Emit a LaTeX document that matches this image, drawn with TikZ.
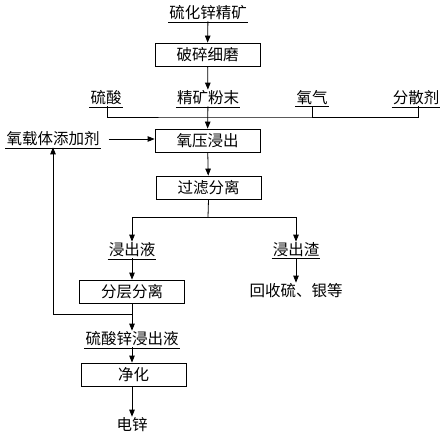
\documentclass[tikz,border=0pt]{standalone}
\usepackage{fontspec}
\setmainfont{Noto Sans CJK SC}
\usetikzlibrary{arrows.meta}
\begin{document}
\begin{tikzpicture}[x=1pt,y=-1pt,
  font=\fontsize{15.5pt}{17pt}\selectfont,
  proc/.style={draw,line width=0.8pt,minimum width=105pt,minimum height=23pt,inner sep=0pt},
  lbl/.style={inner sep=1pt},
  conn/.style={line width=0.8pt},
  uline/.style={line width=0.7pt},
  arr/.style={conn,-{Triangle[length=7pt,width=5.5pt]}}]
\useasboundingbox (0,0) rectangle (444,439);
% texts
\node[lbl] (t0) at (208,13) {硫化锌精矿};
\node[proc] (b1) at (207.5,54.5) {破碎细磨};
\node[lbl] (t1) at (208,98) {精矿粉末};
\node[lbl] (ts) at (106,98) {硫酸};
\node[lbl] (to) at (312,98) {氧气};
\node[lbl] (td) at (416,98) {分散剂};
\node[proc] (b2) at (207.5,140.5) {氧压浸出};
\node[lbl] (tc) at (53,139) {氧载体添加剂};
\node[proc] (b3) at (208.5,187.5) {过滤分离};
\node[lbl] (tl) at (132,250) {浸出液};
\node[lbl] (tr) at (296,250) {浸出渣};
\node[lbl] (tx) at (296,291) {回收硫、银等};
\node[proc] (b4) at (132,291.5) {分层分离};
\node[lbl] (tz) at (132,339) {硫酸锌浸出液};
\node[proc] (b5) at (133.5,374.5) {净化};
\node[lbl] (te) at (132,425) {电锌};
% underlines
\foreach \n in {t0,t1,ts,to,td,tc,tl,tr,tz}
  \draw[uline] ([yshift=-0.5pt]\n.south west) -- ([yshift=-0.5pt]\n.south east);
% coordinates
\coordinate (bus) at (208,117);
\coordinate (split) at (208,217);
\coordinate (fb) at (132,314);
% connectors
\draw[arr] (t0) -- (b1);
\draw[arr] (b1) -- (t1);
\draw[arr] (t1) -- (b2);
\draw[conn] (ts.south -| 107,0) |- (bus) -| (td.south -| 418,0);
\draw[conn] (to.south) -- (to.south |- bus);
\draw[arr] (tc.east) ++(8,0) -- (b2.west |- tc.east);
\draw[arr] (b2) -- (b3);
\draw[conn] (b3.south) -- (split);
\draw[arr] (split) -| (tl.north);
\draw[arr] (split) -| (tr.north);
\draw[arr] (tl) -- (b4);
\draw[arr] (tr) -- (tx);
\draw[arr] (b4) -- (tz);
\draw[arr] (fb) -| (tc.south);
\draw[arr] (tz.south) -- (tz.south |- b5.north);
\draw[arr] (b5.south -| te) -- (te);
\end{tikzpicture}
\end{document}
